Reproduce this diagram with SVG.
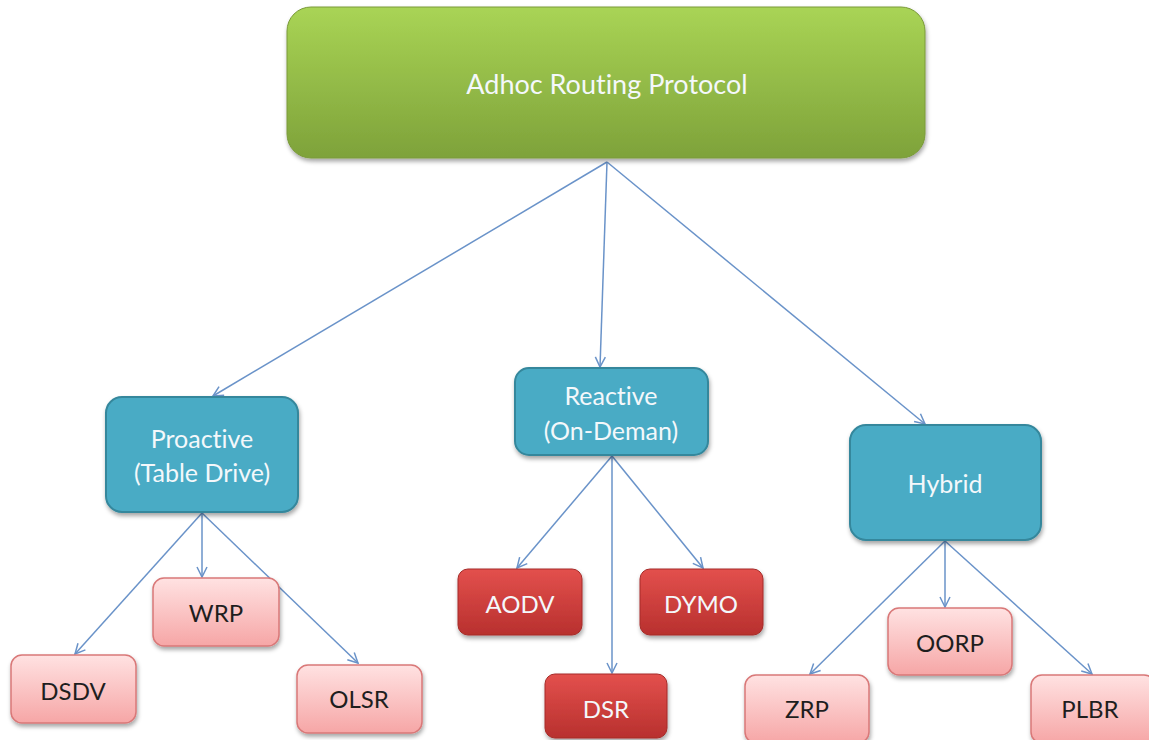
<svg xmlns="http://www.w3.org/2000/svg" width="1149" height="740" viewBox="0 0 1149 740">
<style>
text{font-family:Lato,"Open Sans","Liberation Sans",sans-serif;text-anchor:middle;dominant-baseline:central;font-variant-ligatures:none}
.conn line{stroke:#6a93c9;stroke-width:1.5;fill:none}
.blue{fill:#4aabc5;stroke:#34879c;stroke-width:2}
.red{fill:url(#gRed);stroke:#a52a28;stroke-width:1}
.pink{fill:url(#gPink);stroke:#d97878;stroke-width:1.5}
.wt{fill:#f4f8fb;font-size:25px}
.lf{font-size:24px}
.dk{fill:#1e1e1e;font-size:24px}
</style>
<defs>
<linearGradient id="gGreen" x1="0" y1="0" x2="0" y2="1"><stop offset="0" stop-color="#a9d455"/><stop offset="1" stop-color="#7ea23a"/></linearGradient>
<linearGradient id="gRed" x1="0" y1="0" x2="0" y2="1"><stop offset="0" stop-color="#e3504d"/><stop offset="1" stop-color="#b8302e"/></linearGradient>
<linearGradient id="gPink" x1="0" y1="0" x2="0" y2="1"><stop offset="0" stop-color="#ffe2e2"/><stop offset="1" stop-color="#f6a6a6"/></linearGradient>
<filter id="sh" x="-10%" y="-10%" width="120%" height="130%"><feDropShadow dx="1" dy="3" stdDeviation="2" flood-color="#000" flood-opacity="0.35"/></filter>
<marker id="arr" viewBox="0 0 12 12" refX="11" refY="6" markerWidth="12" markerHeight="12" markerUnits="userSpaceOnUse" orient="auto"><path d="M1,1 L11,6 L1,11" fill="none" stroke="#6a93c9" stroke-width="1.5"/></marker>
</defs>
<g class="conn">
<line x1="607" y1="162" x2="213" y2="396" marker-end="url(#arr)"/>
<line x1="607" y1="162" x2="600" y2="367" marker-end="url(#arr)"/>
<line x1="607" y1="162" x2="925" y2="424" marker-end="url(#arr)"/>
<line x1="202" y1="513" x2="75" y2="654" marker-end="url(#arr)"/>
<line x1="202" y1="513" x2="202" y2="577" marker-end="url(#arr)"/>
<line x1="202" y1="513" x2="358" y2="663" marker-end="url(#arr)"/>
<line x1="612" y1="456" x2="517" y2="568" marker-end="url(#arr)"/>
<line x1="612" y1="456" x2="612" y2="673" marker-end="url(#arr)"/>
<line x1="612" y1="456" x2="703" y2="568" marker-end="url(#arr)"/>
<line x1="945" y1="541" x2="810" y2="674" marker-end="url(#arr)"/>
<line x1="945" y1="541" x2="945" y2="607" marker-end="url(#arr)"/>
<line x1="945" y1="541" x2="1092" y2="674" marker-end="url(#arr)"/>
</g>
<g id="root"><rect x="287" y="7" width="638" height="151" rx="24" fill="url(#gGreen)" stroke="#7a9a3a" stroke-width="1" filter="url(#sh)"/><text x="607" y="83" class="wt" style="font-size:27px">Adhoc Routing  Protocol</text></g>
<g id="proactive"><rect x="106" y="397" width="192" height="115" rx="16" class="blue" filter="url(#sh)"/><text x="202" y="438" class="wt">Proactive</text><text x="202" y="472" class="wt">(Table Drive)</text></g>
<g id="reactive"><rect x="515" y="368" width="193" height="87" rx="14" class="blue" filter="url(#sh)"/><text x="611" y="395" class="wt">Reactive</text><text x="611" y="430" class="wt">(On-Deman)</text></g>
<g id="hybrid"><rect x="850" y="425" width="191" height="115" rx="16" class="blue" filter="url(#sh)"/><text x="945" y="483" class="wt">Hybrid</text></g>
<g id="wrp"><rect x="153" y="578" width="126" height="68" rx="11" class="pink" filter="url(#sh)"/><text x="216" y="612" class="dk">WRP</text></g>
<g id="dsdv"><rect x="11" y="655" width="125" height="68" rx="11" class="pink" filter="url(#sh)"/><text x="73" y="690" class="dk">DSDV</text></g>
<g id="olsr"><rect x="297" y="665" width="125" height="68" rx="11" class="pink" filter="url(#sh)"/><text x="359" y="698" class="dk">OLSR</text></g>
<g id="aodv"><rect x="458" y="569" width="124" height="66" rx="10" class="red" filter="url(#sh)"/><text x="520" y="603" class="wt lf">AODV</text></g>
<g id="dymo"><rect x="640" y="569" width="123" height="66" rx="10" class="red" filter="url(#sh)"/><text x="701" y="603" class="wt lf">DYMO</text></g>
<g id="dsr"><rect x="545" y="674" width="122" height="64" rx="10" class="red" filter="url(#sh)"/><text x="606" y="708" class="wt lf">DSR</text></g>
<g id="oorp"><rect x="888" y="608" width="124" height="67" rx="11" class="pink" filter="url(#sh)"/><text x="950" y="642" class="dk">OORP</text></g>
<g id="zrp"><rect x="745" y="675" width="124" height="68" rx="11" class="pink" filter="url(#sh)"/><text x="807" y="708" class="dk">ZRP</text></g>
<g id="plbr"><rect x="1031" y="675" width="124" height="68" rx="11" class="pink" filter="url(#sh)"/><text x="1090" y="708" class="dk">PLBR</text></g>
</svg>
